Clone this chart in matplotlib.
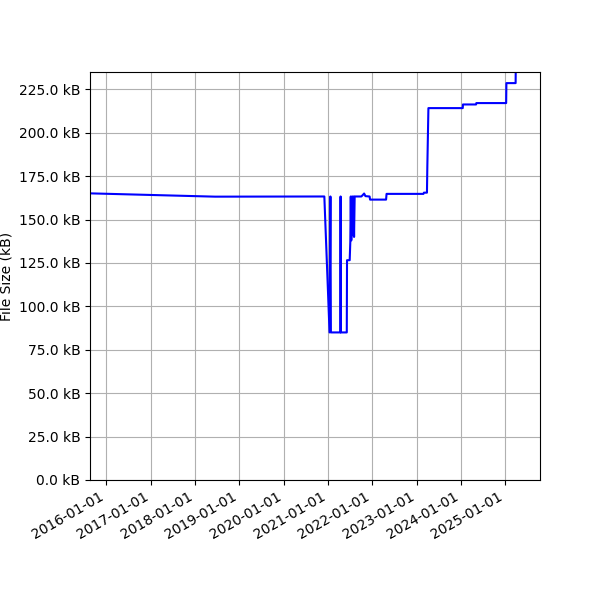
import matplotlib
matplotlib.use("Agg")
import matplotlib.pyplot as plt
import matplotlib.dates as mdates
import matplotlib.ticker as mticker
import pandas as pd

# file size history (kB)
dates = [
    "2015-08-19", "2018-06-15", "2020-12-02", "2021-01-14", "2021-01-21",
    "2021-01-25", "2021-04-13", "2021-04-15", "2021-04-17", "2021-06-05",
    "2021-06-07", "2021-06-29", "2021-07-04", "2021-07-08", "2021-07-12",
    "2021-07-20", "2021-07-24", "2021-07-31", "2021-08-04", "2021-08-09",
    "2021-10-03", "2021-10-13", "2021-10-26", "2021-11-06", "2021-12-10",
    "2021-12-14", "2022-04-25", "2022-04-29", "2023-02-27", "2023-03-03",
    "2023-03-28", "2023-03-31", "2023-04-09", "2024-01-17", "2024-01-19",
    "2024-05-06", "2024-05-08", "2025-01-09", "2025-01-11", "2025-03-28",
    "2025-03-30",
]
sizes_kb = [
    165.1, 163.2, 163.3, 85.0, 163.3,
    85.0, 85.0, 163.3, 85.0, 85.0,
    126.6, 126.6, 137.0, 163.3, 138.0,
    163.3, 141.0, 163.3, 140.0, 163.3,
    163.3, 164.0, 165.0, 163.5, 163.3,
    161.5, 161.5, 164.8, 164.8, 165.5,
    165.5, 180.0, 214.2, 214.2, 216.3,
    216.3, 217.1, 217.1, 228.6, 228.6,
    245.0,
]

x = pd.to_datetime(dates)

fig, ax = plt.subplots(figsize=(6, 6), dpi=100)
ax.plot(x, sizes_kb, color="blue", linewidth=1.5)

ax.set_xlim(pd.Timestamp("2015-08-19"), pd.Timestamp("2025-10-15"))
ax.set_ylim(0, 235)
ax.yaxis.set_major_locator(mticker.MultipleLocator(25))
ax.yaxis.set_major_formatter(mticker.FuncFormatter(lambda v, p: f"{v:.1f} kB"))
ax.xaxis.set_major_locator(mdates.YearLocator())
ax.xaxis.set_major_formatter(mdates.DateFormatter("%Y-%m-%d"))
ax.set_ylabel("File Size (kB)")
ax.grid(True)

fig.autofmt_xdate()
fig.subplots_adjust(left=0.15)
fig.savefig("out.png")
